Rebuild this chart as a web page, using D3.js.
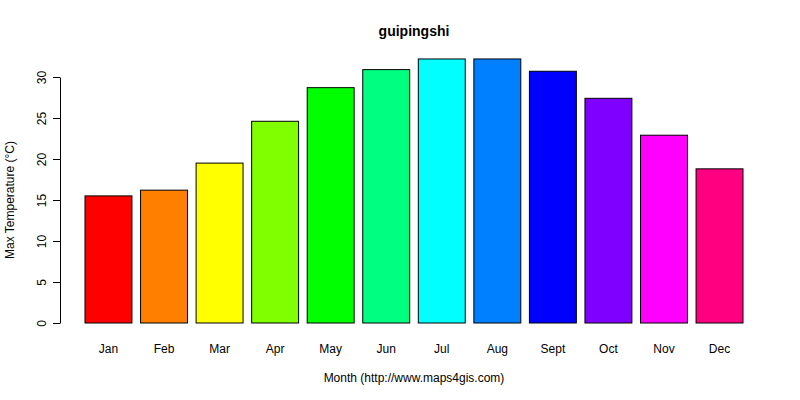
<!DOCTYPE html>
<html>
<head>
<meta charset="utf-8">
<script src="https://cdn.jsdelivr.net/npm/d3@7"></script>
<style>
  body { margin: 0; background: #fff; }
  text { font-family: "Liberation Sans", Arial, sans-serif; }
</style>
</head>
<body>
<svg id="chart" width="800" height="400"></svg>
<script>
const months = ["Jan", "Feb", "Mar", "Apr", "May", "Jun", "Jul", "Aug", "Sept", "Oct", "Nov", "Dec"]
const maxTemp = [15.5, 16.2, 19.5, 24.6, 28.7, 30.9, 32.2, 32.2, 30.7, 27.4, 22.9, 18.8]
const colors = ["#FF0000", "#FF8000", "#FFFF00", "#80FF00", "#00FF00", "#00FF80",
                "#00FFFF", "#0080FF", "#0000FF", "#8000FF", "#FF00FF", "#FF0080"]
const yTicks = [0, 5, 10, 15, 20, 25, 30]

const svg = d3.select("#chart")

const x = d3.scaleBand().domain(months).range([85, 743]).paddingInner(0.155).paddingOuter(0)
const y = d3.scaleLinear().domain([0, 30]).range([323, 77])

// bars
svg.append("g").selectAll("rect")
  .data(maxTemp)
  .join("rect")
  .attr("x", (d, i) => x(months[i]))
  .attr("y", d => y(d))
  .attr("width", x.bandwidth())
  .attr("height", d => y(0) - y(d))
  .attr("fill", (d, i) => colors[i])
  .attr("stroke", "#000")
  .attr("stroke-width", 1)

// y axis
const yAxis = svg.append("g")
  .attr("transform", "translate(60,0)")
  .call(d3.axisLeft(y).tickValues(yTicks).tickSize(7).tickSizeOuter(0))
yAxis.select(".domain").attr("stroke", "#000")
yAxis.selectAll(".tick line").attr("stroke", "#000")
yAxis.selectAll(".tick text")
  .attr("font-size", 12)
  .attr("fill", "#000")
  .attr("transform", d => `rotate(-90, -18, ${y(d)})`)
  .attr("x", -18)
  .attr("dy", 0)
  .attr("text-anchor", "middle")
  .attr("y", d => y(d) - y(d) + 4)
yAxis.selectAll(".tick").each(function(d) {
  d3.select(this).select("text")
    .attr("transform", `rotate(-90) translate(0,0)`)
    .attr("x", 0)
    .attr("y", -14)
    .attr("text-anchor", "middle")
})

// month labels
svg.append("g").selectAll("text")
  .data(months)
  .join("text")
  .attr("x", d => x(d) + x.bandwidth() / 2)
  .attr("y", 353)
  .attr("text-anchor", "middle")
  .attr("font-size", 12)
  .text(d => d)

// titles
svg.append("text").attr("x", 414).attr("y", 36).attr("text-anchor", "middle")
  .attr("font-size", 14).attr("font-weight", "bold").text("guipingshi")
svg.append("text").attr("x", 414).attr("y", 382).attr("text-anchor", "middle")
  .attr("font-size", 12).text("Month (http://www.maps4gis.com)")
svg.append("text").attr("transform", "translate(14,200) rotate(-90)").attr("text-anchor", "middle")
  .attr("font-size", 12).text("Max Temperature (°C)")
</script>
</body>
</html>
